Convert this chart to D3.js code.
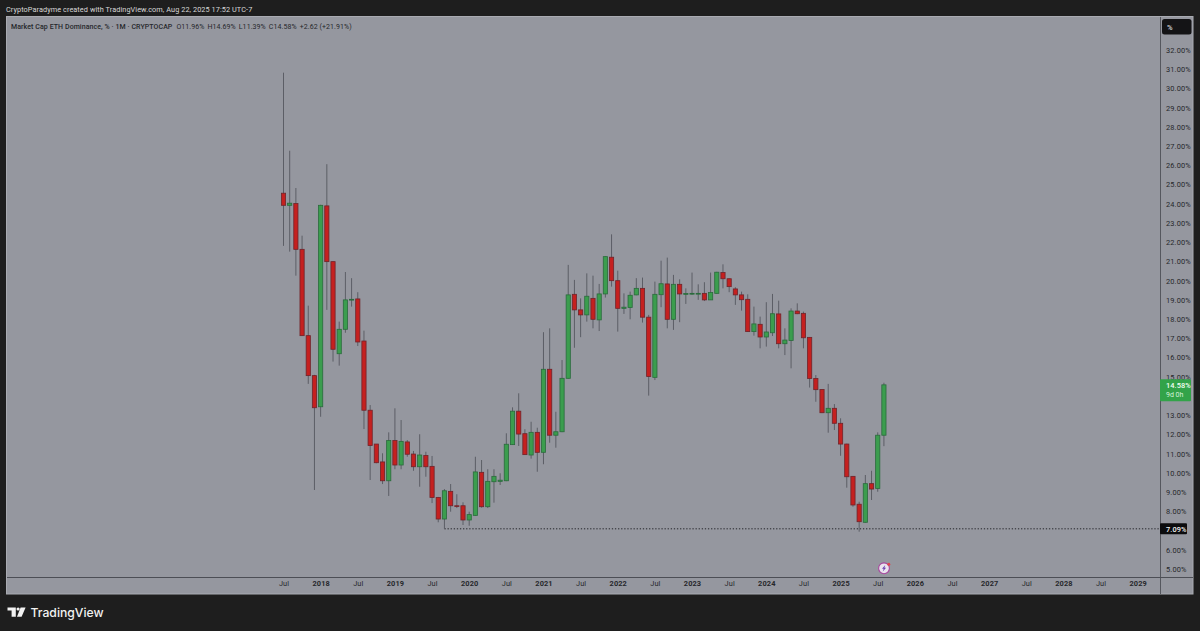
<!DOCTYPE html>
<html>
<head>
<meta charset="utf-8">
<script src="https://cdn.jsdelivr.net/npm/d3@7"></script>
<style>
html,body{margin:0;padding:0;background:#1e1e1e;overflow:hidden}
svg{display:block}
text{font-family:Roboto,"Liberation Sans",sans-serif}
</style>
</head>
<body>
<svg id="c" width="1200" height="631"></svg>
<script>
const opens=[24.55,23.92,24.01,21.63,17.14,15.06,13.44,23.89,20.99,16.20,17.47,19.00,19.05,16.86,13.26,11.50,10.57,9.59,11.68,10.41,11.61,10.98,10.32,10.90,10.34,8.72,7.60,9.04,8.29,8.29,7.55,7.79,10.03,8.24,9.54,9.56,9.59,11.47,13.21,12.04,10.93,12.11,11.07,15.39,11.96,12.14,14.92,19.29,18.48,18.22,19.08,17.96,19.31,21.22,20.00,18.56,18.60,19.26,19.60,18.10,14.97,19.27,19.83,17.99,19.81,19.31,19.34,19.34,19.34,19.00,19.34,20.42,20.10,19.57,19.26,19.03,17.35,17.73,17.07,17.29,18.27,16.72,16.89,18.42,18.30,17.05,14.91,14.34,13.13,13.36,12.58,11.50,9.82,8.37,7.43,9.44,9.19,11.96];
const highs=[30.82,26.76,24.82,22.34,18.70,15.10,23.95,26.06,21.00,17.87,20.45,20.13,19.40,17.40,13.53,11.50,11.02,12.11,13.36,12.75,11.71,11.14,12.01,11.10,10.88,8.75,9.16,9.42,8.89,8.47,7.98,10.84,10.67,10.19,10.19,9.98,12.06,13.41,14.14,12.27,12.66,12.35,17.32,17.52,13.18,15.87,20.82,20.04,19.08,20.38,20.26,19.83,21.27,22.41,20.52,19.34,19.43,20.13,20.16,18.22,19.95,21.04,21.20,20.30,20.07,19.60,20.42,19.81,19.92,20.42,20.46,20.85,20.12,19.66,19.43,19.29,18.65,18.13,18.88,19.31,18.96,17.52,18.56,18.82,18.39,17.07,15.09,14.36,14.63,13.58,12.84,11.52,9.84,8.50,9.89,10.11,12.11,14.69];
const lows=[21.81,21.51,20.26,17.12,14.63,9.11,12.92,18.48,15.79,15.58,17.29,18.65,16.60,12.28,9.63,10.50,9.42,8.80,10.19,10.19,10.84,10.11,9.28,9.80,8.43,7.43,7.09,7.98,8.17,7.29,7.25,7.77,8.19,8.17,8.45,9.37,9.57,11.45,11.40,10.93,10.74,10.06,10.45,11.57,11.31,12.12,14.90,16.51,17.06,17.87,17.52,17.38,19.12,19.69,17.35,18.27,17.99,19.24,17.82,14.02,14.83,18.62,17.52,17.44,17.84,18.79,19.26,19.00,18.94,19.00,19.32,19.60,19.40,18.74,18.44,17.33,17.14,16.48,16.57,17.12,16.48,16.13,15.44,18.26,16.48,14.44,13.70,13.11,12.09,12.23,10.89,9.23,8.24,6.94,7.41,8.59,9.02,11.39];
const closes=[23.92,24.03,21.63,17.14,15.06,13.39,23.92,20.99,16.43,17.47,19.00,19.03,16.81,13.26,11.42,10.53,9.59,11.68,10.41,11.64,10.97,10.32,10.93,10.32,8.72,7.60,9.07,8.29,8.27,7.55,7.83,10.05,8.24,9.56,9.82,9.62,11.49,13.21,12.02,10.95,12.11,11.07,15.39,11.96,12.14,14.92,19.26,18.48,18.22,19.19,17.99,19.31,21.25,20.00,18.56,18.62,19.24,19.60,18.10,15.01,19.29,19.84,17.99,19.81,19.31,19.33,19.34,19.34,19.00,19.38,20.44,20.10,19.69,19.26,19.01,17.35,17.75,17.07,17.33,18.28,16.72,16.91,18.42,18.28,17.03,14.91,14.33,13.13,13.36,12.58,11.50,9.80,8.33,7.46,9.44,9.16,11.96,14.58];
const yTicks=[5,6,8,9,10,11,12,13,15,16,17,18,19,20,21,22,23,24,25,26,27,28,29,30,31,32];
const xTickIndex=[0,6,12,18,24,30,36,42,48,54,60,66,72,78,84,90,96,102,108,114,120,126,132,138];
const xTickLabels=["Jul","2018","Jul","2019","Jul","2020","Jul","2021","Jul","2022","Jul","2023","Jul","2024","Jul","2025","Jul","2026","Jul","2027","Jul","2028","Jul","2029"];
const titleText="CryptoParadyme created with TradingView.com, Aug 22, 2025 17:52 UTC-7";
const legendName="Market Cap ETH Dominance, % · 1M · CRYPTOCAP";
const legendOHLC=["O11.96%","H14.69%","L11.39%","C14.58%","+2.62 (+21.91%)"];
const lastValue=14.58, lastCountdown="9d 0h", floorValue=7.09, floorIndex=26;

const svg=d3.select("#c");
const PANE="#95979f",INK="#26272b";
const x=d3.scaleLinear().domain([0,138]).range([283.5,1137.7]);
const y=d3.scaleLinear().domain([5,32]).range([569,50]);
const fmt=v=>v.toFixed(2)+"%";

svg.append("rect").attr("width",1200).attr("height",631).attr("fill","#1e1e1e");
svg.append("rect").attr("x",6.5).attr("y",16.5).attr("width",1186.5).attr("height",577.5).attr("fill",PANE).attr("stroke","#a9abb2").attr("stroke-width",1);
svg.append("line").attr("x1",1160.5).attr("x2",1160.5).attr("y1",17).attr("y2",594).attr("stroke","#55575e");
svg.append("line").attr("x1",7).attr("x2",1193).attr("y1",577.5).attr("y2",577.5).attr("stroke","#4c4e55");

svg.append("text").attr("x",6).attr("y",11.5).attr("fill","#d8d8d8").attr("font-size",7.3).attr("letter-spacing",0.08).text(titleText);

const lg=svg.append("text").attr("x",11).attr("y",28.5).attr("fill",INK).attr("font-size",7).attr("letter-spacing",0.08);
lg.append("tspan").attr("font-weight",500).text(legendName);
legendOHLC.forEach((t,i)=>lg.append("tspan").attr("dx",i?3:4).text(t));

// dotted floor line
svg.append("line").attr("x1",x(floorIndex)).attr("x2",1160).attr("y1",y(floorValue)).attr("y2",y(floorValue))
  .attr("stroke","#24252a").attr("stroke-width",1).attr("stroke-dasharray","1.3,1.8");

// candles
const idx=d3.range(opens.length);
const w=4.2;
const g=svg.append("g");
g.selectAll("line.w").data(idx).join("line").attr("class","w")
  .attr("x1",i=>x(i)).attr("x2",i=>x(i)).attr("y1",i=>y(highs[i])).attr("y2",i=>y(lows[i]))
  .attr("stroke","#5c5e66").attr("stroke-width",1);
g.selectAll("rect.b").data(idx).join("rect").attr("class","b")
  .attr("x",i=>x(i)-w/2).attr("width",w)
  .attr("y",i=>y(Math.max(opens[i],closes[i])))
  .attr("height",i=>Math.max(0.8,Math.abs(y(opens[i])-y(closes[i]))))
  .attr("fill",i=>closes[i]>=opens[i]?"#3b9d4e":"#c5201f")
  .attr("stroke",i=>closes[i]>=opens[i]?"#2a6b3c":"#70232a")
  .attr("stroke-width",0.8);

// axes
const ya=svg.append("g").attr("transform","translate(1162,0)")
  .call(d3.axisRight(y).tickValues(yTicks).tickSize(0).tickPadding(4).tickFormat(fmt));
ya.select(".domain").remove();
ya.selectAll("text").attr("fill",INK).attr("font-size",7.4).attr("letter-spacing",0.15).style("font-family","Roboto,sans-serif");

const xa=svg.append("g").attr("transform","translate(0,578)")
  .call(d3.axisBottom(x).tickValues(xTickIndex).tickSize(0).tickPadding(3).tickFormat((d,i)=>xTickLabels[i]));
xa.select(".domain").remove();
xa.selectAll("text").attr("fill",INK).attr("font-size",7.4).attr("letter-spacing",0.1)
  .attr("font-weight",(d,i)=>xTickLabels[i]==="Jul"?400:700).style("font-family","Roboto,sans-serif");

// price scale badges
svg.append("rect").attr("x",1162).attr("y",19).attr("width",29.5).attr("height",15.5).attr("rx",2.5).attr("fill","#141416");
svg.append("text").attr("x",1167).attr("y",29.5).attr("fill","#c4c4c8").attr("font-size",7.6).attr("font-weight",700).text("%");

svg.append("rect").attr("x",1160).attr("y",y(lastValue)-5.5).attr("width",31).attr("height",22).attr("rx",1).attr("fill","#32a349");
svg.append("text").attr("x",1166).attr("y",y(lastValue)+3).attr("fill","#f2fff4").attr("font-size",7.4).attr("font-weight",500).attr("letter-spacing",0.1).text(fmt(lastValue));
svg.append("text").attr("x",1166).attr("y",y(lastValue)+12).attr("fill","#d5f2da").attr("font-size",7).text(lastCountdown);

svg.append("rect").attr("x",1160).attr("y",y(floorValue)-5.5).attr("width",27).attr("height",11).attr("rx",1).attr("fill","#0c0c0e");
svg.append("text").attr("x",1166).attr("y",y(floorValue)+2.7).attr("fill","#f4f4f4").attr("font-size",7.4).attr("font-weight",500).attr("letter-spacing",0.1).text(fmt(floorValue));

// event icon
const ic=svg.append("g").attr("transform","translate(884,568.3)");
ic.append("circle").attr("r",5.4).attr("fill","#e9e4ee").attr("stroke","#a8479f").attr("stroke-width",1.1);
ic.append("path").attr("d","M1.3,-3.2 L-2,0.5 L-0.3,0.5 L-1.2,3.2 L2.1,-0.6 L0.4,-0.6 Z").attr("fill","#6a3fb0");
ic.append("circle").attr("cx",4.8).attr("cy",-4).attr("r",1.5).attr("fill","#e0454f");

// footer logo
svg.append("path").attr("fill","#f2f2f2")
  .attr("d","M7.5,607.5 H15.8 V616.8 H11.6 V610.6 H7.5 Z M20.6,607.5 H25.6 L21.6,616.8 H17 Z");
svg.append("circle").attr("cx",18.1).attr("cy",609).attr("r",1.6).attr("fill","#f2f2f2");
svg.append("text").attr("x",30.5).attr("y",617).attr("fill","#f2f2f2").attr("font-size",12.2).attr("font-weight",500).style("font-family","Inter,Lato,sans-serif").text("TradingView");
</script>
</body>
</html>
